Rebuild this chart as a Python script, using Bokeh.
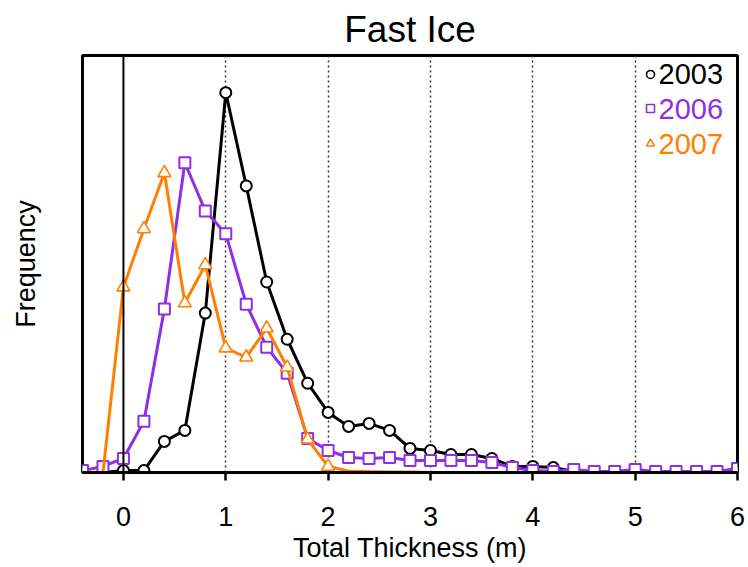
from bokeh.plotting import figure
from bokeh.models import Range1d, FixedTicker, Span, ColumnDataSource, CDSView, IndexFilter, Label
from bokeh.embed import file_html
from bokeh.resources import INLINE

# Thickness bins (m), 0.2 m spacing
thickness = [-0.4, -0.2, 0.0, 0.2, 0.4, 0.6, 0.8, 1.0, 1.2, 1.4, 1.6, 1.8, 2.0,
             2.2, 2.4, 2.6, 2.8, 3.0, 3.2, 3.4, 3.6, 3.8, 4.0, 4.2, 4.4, 4.6,
             4.8, 5.0, 5.2, 5.4, 5.6, 5.8, 6.0]

# Frequency (%) per bin
freq_2003 = [0.0, 0.0, 0.1, 0.1, 1.64, 2.22, 8.41, 20.04, 15.12, 10.05, 7.03, 4.71, 3.17,
             2.43, 2.59, 2.22, 1.27, 1.16, 0.95, 0.95, 0.74, 0.32, 0.32, 0.26, 0.05, 0.0,
             0.0, 0.0, 0.0, 0.0, 0.0, 0.0, 0.0]
freq_2006 = [0.1, 0.32, 0.74, 2.70, 8.62, 16.34, 13.80, 12.59, 8.88, 6.61, 5.24, 1.80, 1.16,
             0.79, 0.74, 0.79, 0.63, 0.63, 0.63, 0.63, 0.53, 0.26, 0.10, 0.05, 0.16, 0.05,
             0.05, 0.16, 0.05, 0.05, 0.05, 0.05, 0.21]
thickness_2007 = thickness[:18]
freq_2007 = [0.0, 0.0, 9.78, 12.85, 15.81, 8.94, 10.95, 6.56, 6.08, 7.61, 5.55, 1.75, 0.32,
             0.08, 0.05, 0.03, 0.02, 0.0]

years = ["2003", "2006", "2007"]
colors = ["black", "#8F2FE3", "#FF8000"]

FONT = "Liberation Sans"

p = figure(width=748, height=567, output_backend="svg", toolbar_location=None,
           x_range=Range1d(-0.4, 6.0), y_range=Range1d(0, 22),
           min_border_left=82, min_border_right=11, min_border_top=55, min_border_bottom=95)

p.background_fill_color = "white"
p.border_fill_color = "white"
p.outline_line_color = "black"
p.outline_line_width = 3

# title
p.title.text = "Fast Ice"
p.title.align = "center"
p.title.text_font = FONT
p.title.text_font_size = "37px"
p.title.text_font_style = "normal"
p.title.text_color = "black"
p.title.standoff = 12

# x axis
p.xaxis.ticker = FixedTicker(ticks=[0, 1, 2, 3, 4, 5, 6])
p.xaxis.minor_tick_line_color = None
p.xaxis.major_tick_out = 8
p.xaxis.major_tick_in = 0
p.xaxis.major_tick_line_width = 2.5
p.xaxis.axis_line_width = 3
p.xaxis.major_label_text_font = FONT
p.xaxis.major_label_text_font_size = "27px"
p.xaxis.major_label_text_color = "black"
p.xaxis.major_label_standoff = 26
p.xaxis.axis_label = "Total Thickness (m)"
p.xaxis.axis_label_text_font = FONT
p.xaxis.axis_label_text_font_size = "27px"
p.xaxis.axis_label_text_font_style = "normal"
p.xaxis.axis_label_text_color = "black"
p.xaxis.axis_label_standoff = 4

# y axis: label only
p.yaxis.ticker = FixedTicker(ticks=[])
p.yaxis.minor_tick_line_color = None
p.yaxis.major_tick_line_color = None
p.yaxis.axis_line_color = None
p.yaxis.axis_label = "Frequency"
p.yaxis.axis_label_text_font = FONT
p.yaxis.axis_label_text_font_size = "27px"
p.yaxis.axis_label_text_font_style = "normal"
p.yaxis.axis_label_text_color = "black"
p.yaxis.axis_label_standoff = 42

# dotted reference lines at whole metres, solid line at zero
p.ygrid.grid_line_color = None
p.xgrid.ticker = FixedTicker(ticks=[1, 2, 3, 4, 5])
p.xgrid.grid_line_color = "#333333"
p.xgrid.grid_line_dash = "2 3"
p.xgrid.grid_line_width = 1.5
p.add_layout(Span(location=0, dimension="height", line_color="black", line_width=2))

src03 = ColumnDataSource(dict(x=thickness, y=freq_2003))
src06 = ColumnDataSource(dict(x=thickness, y=freq_2006))
src07 = ColumnDataSource(dict(x=thickness_2007, y=freq_2007))

lw = 3
p.line("x", "y", source=src03, line_color=colors[0], line_width=lw)
p.scatter("x", "y", source=src03, marker="circle", size=11, fill_color="white",
          line_color=colors[0], line_width=2)

p.line("x", "y", source=src06, line_color=colors[1], line_width=lw)
p.scatter("x", "y", source=src06, marker="square", size=11, fill_color="white",
          line_color=colors[1], line_width=2)

p.line("x", "y", source=src07, line_color=colors[2], line_width=lw)
# markers only on the populated bins
view07 = CDSView(filter=IndexFilter(indices=list(range(2, 13))))
p.scatter("x", "y", source=src07, view=view07, marker="triangle", size=13,
          fill_color="white", line_color=colors[2], line_width=1.6)

# legend (top right)
leg_x = [5.15, 5.15, 5.15]
leg_y = [21.0, 19.2, 17.35]
markers = ["circle", "square", "triangle"]
for yr, c, m, lx, ly in zip(years, colors, markers, leg_x, leg_y):
    p.scatter([lx], [ly], marker=m, size=8, fill_color="white", line_color=c, line_width=1.6)
    p.add_layout(Label(x=lx, y=ly, text=yr, text_color=c, text_font=FONT,
                       text_font_size="29px", text_baseline="middle", x_offset=8))

open("out.html", "w").write(file_html(p, INLINE))
